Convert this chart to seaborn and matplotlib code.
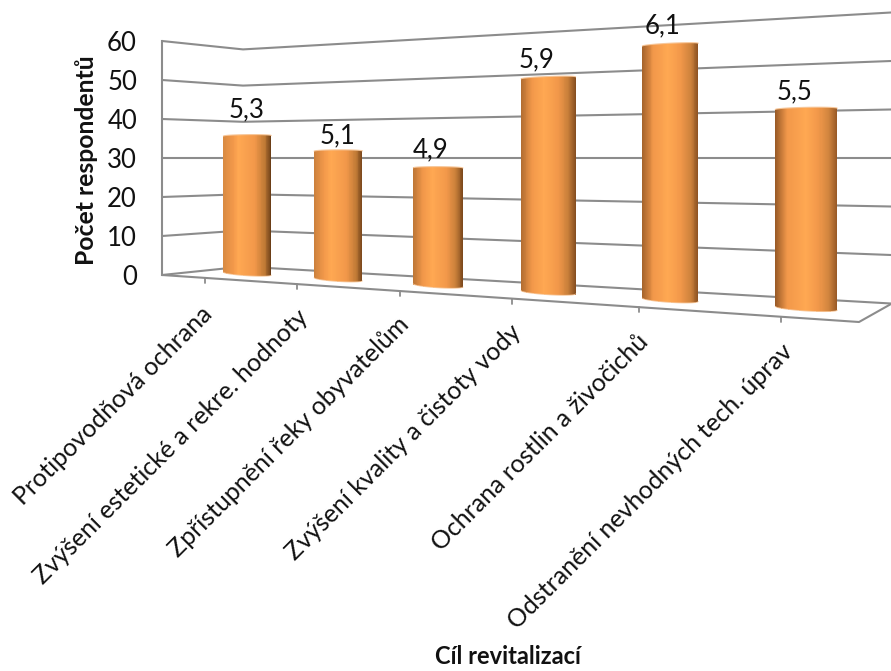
import numpy as np
import pandas as pd
import seaborn as sns
import matplotlib.pyplot as plt
from matplotlib.transforms import Transform, Affine2D

W, H = 891, 671

CATEGORIES = ["Protipovodňová ochrana", "Zvýšení estetické a rekre. hodnoty",
              "Zpřístupnění řeky obyvatelům", "Zvýšení kvality a čistoty vody",
              "Ochrana rostlin a živočichů", "Odstranění nevhodných tech. úprav"]
COUNTS = [36, 32, 28, 48, 54, 40]
BAR_LABELS = ["5,3", "5,1", "4,9", "5,9", "6,1", "5,5"]
Y_TICKS = [0, 10, 20, 30, 40, 50, 60]

# layout, in pixels
LABEL_NUDGE = [(0, 25), (0, 14), (-7, 17), (-11, 17), (-7, 17), (-11, 16)]
BAR_WIDTHS = [0.55, 0.508, 0.474, 0.471, 0.435, 0.432]
TICK_X = [205, 297, 400, 512, 639, 781]
LABEL_ANCHOR = [(208, 310), (304, 313), (405, 321), (517, 328), (644, 338), (789, 348)]
HORIZON = 158
WALL_X = [162, 243, 891]
WALL_SCALE = [3.9, 3.62, 4.85]
GRID = "#8c8c8c"

sns.set_theme(style="white")
plt.rcParams["font.family"] = ["Lato", "Noto Sans", "DejaVu Sans"]

pix = Affine2D().scale(1, -1).translate(0, H)


class BarPlane(Transform):
    """Bar plane in perspective: (category index, count) to display pixels."""
    input_dims = 2
    output_dims = 2

    def transform_non_affine(self, values):
        u, v = np.asarray(values, dtype=float).T
        px = (76.0 * u + 247.0) / (1.0 - 0.0444 * u)
        base = 275 + 0.0626 * (px - 247)
        py = HORIZON + (30 - v) * (base - HORIZON) / 30
        return np.column_stack([px, H - py])


plane = BarPlane()


def bar_colors(i, n=60):
    f = i / 5
    t = np.linspace(0, 1, n)
    stops = [0, 0.2, 0.32 + 0.18 * f, 0.66 + 0.04 * f, 0.87, 1]
    left = np.array([0xd9, 0x8b, 0x42]) * (1 - f) + np.array([0x9a, 0x5b, 0x27]) * f
    right = np.array([0x6b, 0x3e, 0x17]) * (1 - f) + np.array([0x9a, 0x5b, 0x27]) * f
    knee = np.array([0xc0, 0x7a, 0x35]) * (1 - f) + np.array([0xd0, 0x84, 0x3e]) * f
    cols = [left, [0xf2, 0x98, 0x4a], [0xff, 0xa8, 0x52], [0xf2, 0x98, 0x4a], knee, right]
    return np.column_stack([np.interp(t, stops, [c[k] for c in cols]) for k in range(3)]) / 255


df = pd.DataFrame({"pozice": np.arange(len(CATEGORIES)), "pocet": COUNTS})

fig = plt.figure(figsize=(W / 100, H / 100), dpi=100)
ax = fig.add_axes([162 / W, 1 - 275 / H, (859 - 162) / W, (275 - 41) / H])
ax.patch.set_alpha(0)

sns.barplot(data=df, x="pozice", y="pocet", native_scale=True, width=0.55, color="#f2984a",
            saturation=1, ax=ax, zorder=3)

# walls and floor
for val in Y_TICKS:
    ys = [HORIZON + (30 - val) * s for s in WALL_SCALE]
    ax.plot(WALL_X, ys, color=GRID, lw=1.5, transform=pix, clip_on=False, zorder=1)
ax.plot([162, 859, 891], [275, 322, 304], color=GRID, lw=1.5, transform=pix, clip_on=False, zorder=1)
for tx in TICK_X:
    ty = 275 + (tx - 162) * 47 / 697
    ax.plot([tx, tx], [ty, ty + 5], color=GRID, lw=1.3, transform=pix, clip_on=False, zorder=1)

# rounded shaded bars on top of the seaborn rectangles
for i, (bar, lab, nudge) in enumerate(zip(list(ax.patches), BAR_LABELS, LABEL_NUDGE)):
    top = bar.get_height()
    w = BAR_WIDTHS[i]
    x0 = i - w / 2
    bar.set_x(x0)
    bar.set_width(w)
    bar.set_transform(plane)
    bar.set_clip_on(False)
    bar.set_visible(False)
    n = 60
    xs = np.linspace(x0, x0 + w, n + 1)
    t = np.linspace(-1, 1, n + 1)
    curve = np.sqrt(1 - t ** 2)
    low = 0.35 - 0.55 * curve
    high = top - 0.3 + 0.3 * curve
    mesh_x = np.vstack([xs, xs])
    mesh_y = np.vstack([low, high])
    ax.pcolormesh(mesh_x, mesh_y, bar_colors(i, n)[None, :, :], shading="flat",
                  transform=plane, zorder=3, clip_on=False, antialiased=False, linewidth=0)
    ax.plot(xs, high, color="#f7c79a", lw=0.8, transform=plane, clip_on=False, zorder=3.5)
    ax.plot(xs, low, color="#f7c79a", lw=0.6, transform=plane, clip_on=False, zorder=3.5)
    ax.annotate(lab, xy=(i, top), xycoords=plane, xytext=nudge, textcoords="offset pixels",
                ha="center", va="center", fontsize=18.5, color="#111111", annotation_clip=False)

ax.set_xlim(-0.5, 5.5)
ax.set_ylim(0, 60)
ax.set_yticks(Y_TICKS)
ax.set_xticks([])
ax.set_xlabel("")
ax.set_ylabel("")
ax.tick_params(axis="y", length=0, pad=18, labelsize=18.5, labelcolor="#111111")
sns.despine(ax=ax, top=True, right=True, bottom=True)
ax.spines["left"].set_color(GRID)
ax.spines["left"].set_linewidth(1.5)

for name, (ax_x, ax_y) in zip(CATEGORIES, LABEL_ANCHOR):
    ax.text(ax_x, ax_y, name, rotation=45, rotation_mode="anchor", ha="right", va="center",
            fontsize=18, color="#111111", transform=pix, clip_on=False)

fig.text(87 / W, 1 - 160 / H, "Počet respondentů", rotation=90, ha="center", va="center",
         fontsize=17.8, fontweight="bold", color="#111111")
fig.text(508 / W, 1 - 657 / H, "Cíl revitalizací", ha="center", va="center",
         fontsize=17, fontweight="bold", color="#111111")

fig.savefig("out.png", dpi=100)
